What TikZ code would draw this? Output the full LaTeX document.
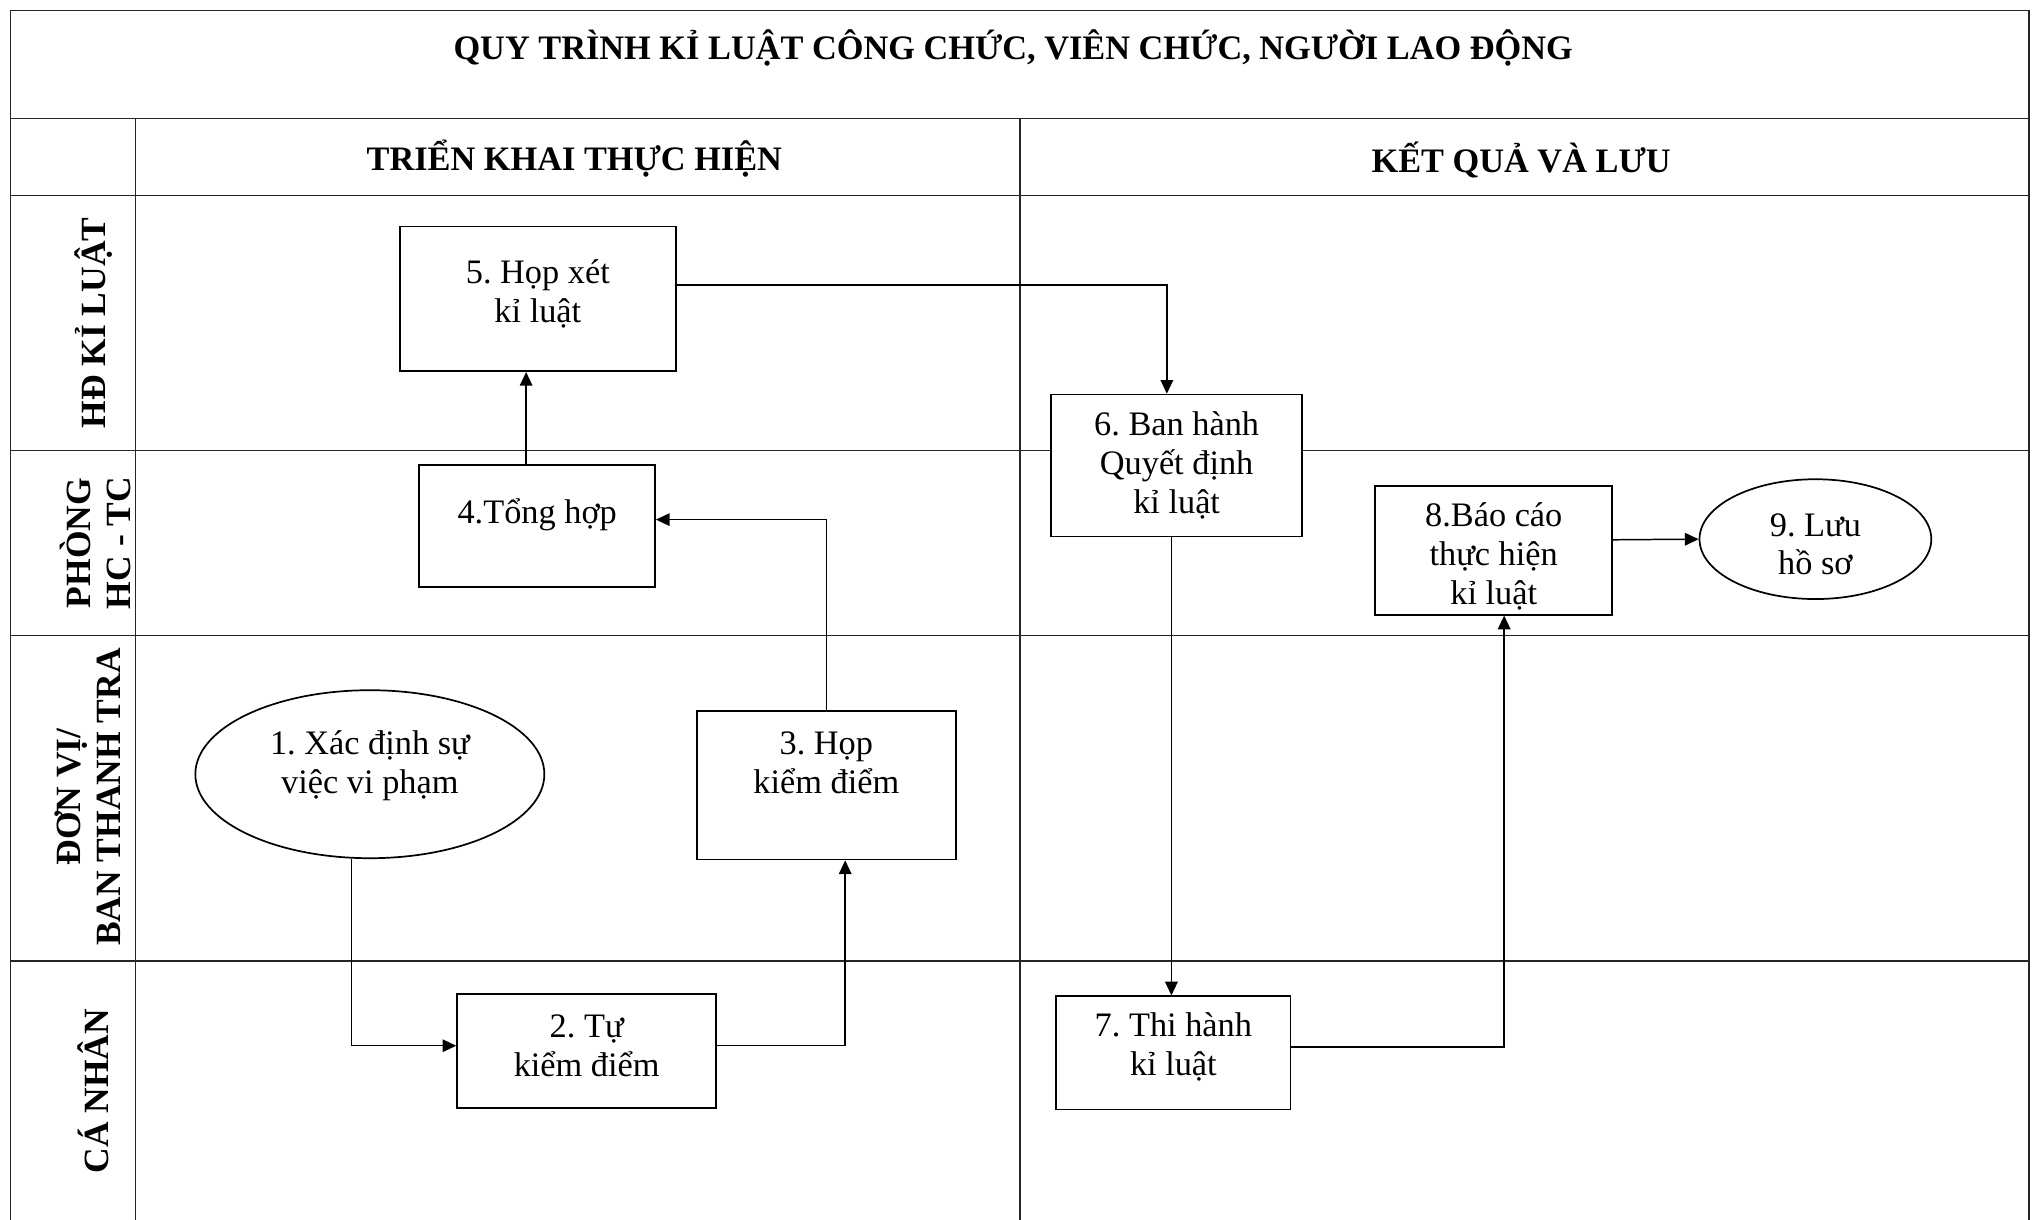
\documentclass[tikz,border=0pt]{standalone}
\usepackage{fontspec}
\setmainfont{Liberation Serif}
\usetikzlibrary{arrows.meta,calc,shapes.geometric}
\newcommand\pxu{0.02cm}
\frenchspacing
\tikzset{
  frame/.style={line width=0.7pt, draw=black!85},
  box/.style={draw, fill=white, line width=0.75pt, rectangle, inner sep=0pt},
  oval/.style={draw, fill=white, line width=0.75pt, ellipse, inner sep=0pt},
  txt/.style={align=center, font=\fontsize{15}{17}\selectfont, inner sep=0pt},
  head/.style={align=center, font=\fontsize{15}{17}\selectfont\bfseries, inner sep=0pt},
  lane/.style={align=center, rotate=90, font=\fontsize{15.5}{17.5}\selectfont\bfseries, inner sep=0pt},
  conn/.style={line width=0.65pt, -{Triangle[length=6pt,width=5.5pt]}},
}
\begin{document}
\begin{tikzpicture}[x=0.02cm, y=-0.02cm]
\useasboundingbox (0,0) rectangle (1568,936.8);
% grid
\draw[frame] (8,936.8) -- (8,8) -- (1558,8) -- (1558,936.8);
\draw[frame] (8,91) -- (1558,91);
\draw[frame] (8,150) -- (1558,150);
\draw[frame] (8,346) -- (1558,346);
\draw[frame] (8,488) -- (1558,488);
\draw[frame] (8,738) -- (1558,738);
\draw[frame] (104,91) -- (104,936.8);
\draw[frame] (783,91) -- (783,936.8);
% headings
\node[head] (title) at (778,37) {QUY TRÌNH KỈ LUẬT CÔNG CHỨC, VIÊN CHỨC, NGƯỜI LAO ĐỘNG};
\node[head] (h1) at (441,122) {TRIỂN KHAI THỰC HIỆN};
\node[head] (h2) at (1168,123) {KẾT QUẢ VÀ LƯU};
% lanes
\node[lane] (l1) at (72,248) {HĐ KỈ LUẬT};
\node[lane] (l2) at (73,417) {PHÒNG\\HC - TC};
\node[lane] (l3) at (67,612) {ĐƠN VỊ/\\BAN THANH TRA};
\node[lane] (l4) at (72,838) {CÁ NHÂN};
% boxes
\node[box, minimum width=212*\pxu, minimum height=111*\pxu] (n5) at (413,229.5) {};
\node[txt] (t5) at (413,226) {5. Họp xét\\kỉ luật};
\node[box, minimum width=181*\pxu, minimum height=94*\pxu] (n4) at (412.5,404) {};
\node[txt] (t4) at (412.5,395) {4.Tổng hợp};
\node[box, minimum width=193*\pxu, minimum height=109*\pxu] (n6) at (903.5,357.5) {};
\node[txt] (t6) at (903.5,357.5) {6. Ban hành\\Quyết định\\kỉ luật};
\node[box, minimum width=182*\pxu, minimum height=99*\pxu] (n8) at (1147,422.5) {};
\node[txt] (t8) at (1147,427) {8.Báo cáo\\thực hiện\\kỉ luật};
\node[oval, minimum width=178*\pxu, minimum height=92*\pxu] (n9) at (1394,414) {};
\node[txt] (t9) at (1394,418) {9. Lưu\\hồ sơ};
\node[oval, minimum width=268*\pxu, minimum height=129*\pxu] (n1) at (284,594.5) {};
\node[txt] (t1) at (284,588) {1. Xác định sự\\việc vi phạm};
\node[box, minimum width=199*\pxu, minimum height=114*\pxu] (n3) at (634.5,603) {};
\node[txt] (t3) at (634.5,585.5) {3. Họp\\kiểm điểm};
\node[box, minimum width=199*\pxu, minimum height=88*\pxu] (n2) at (450.5,807) {};
\node[txt] (t2) at (450.5,803) {2. Tự\\kiểm điểm};
\node[box, minimum width=180*\pxu, minimum height=87*\pxu] (n7) at (901,808.5) {};
\node[txt] (t7) at (901,804) {7. Thi hành\\kỉ luật};
% connectors
\draw[conn] ($(n1.south)+(-14,0)$) |- ($(n2.west)+(0,-4)$);
\draw[conn] ($(n2.east)+(0,-4)$) -| ($(n3.south)+(14.5,0)$);
\draw[conn] (n3.north) |- ($(n4.east)+(0,-5)$);
\draw[conn] ($(n4.north)+(-8.5,0)$) coordinate (a45) -- (a45 |- n5.south);
\draw[conn] ($(n5.east)+(0,-10.5)$) -| ($(n6.north)+(-7.5,0)$);
\draw[conn] ($(n6.south)+(-4,0)$) coordinate (a67) -- (a67 |- n7.north);
\draw[conn] ($(n7.east)+(0,-4.5)$) -| ($(n8.south)+(8,0)$);
\draw[conn] ($(n8.east)+(0,-8)$) -- (n9.west);
\end{tikzpicture}
\end{document}
